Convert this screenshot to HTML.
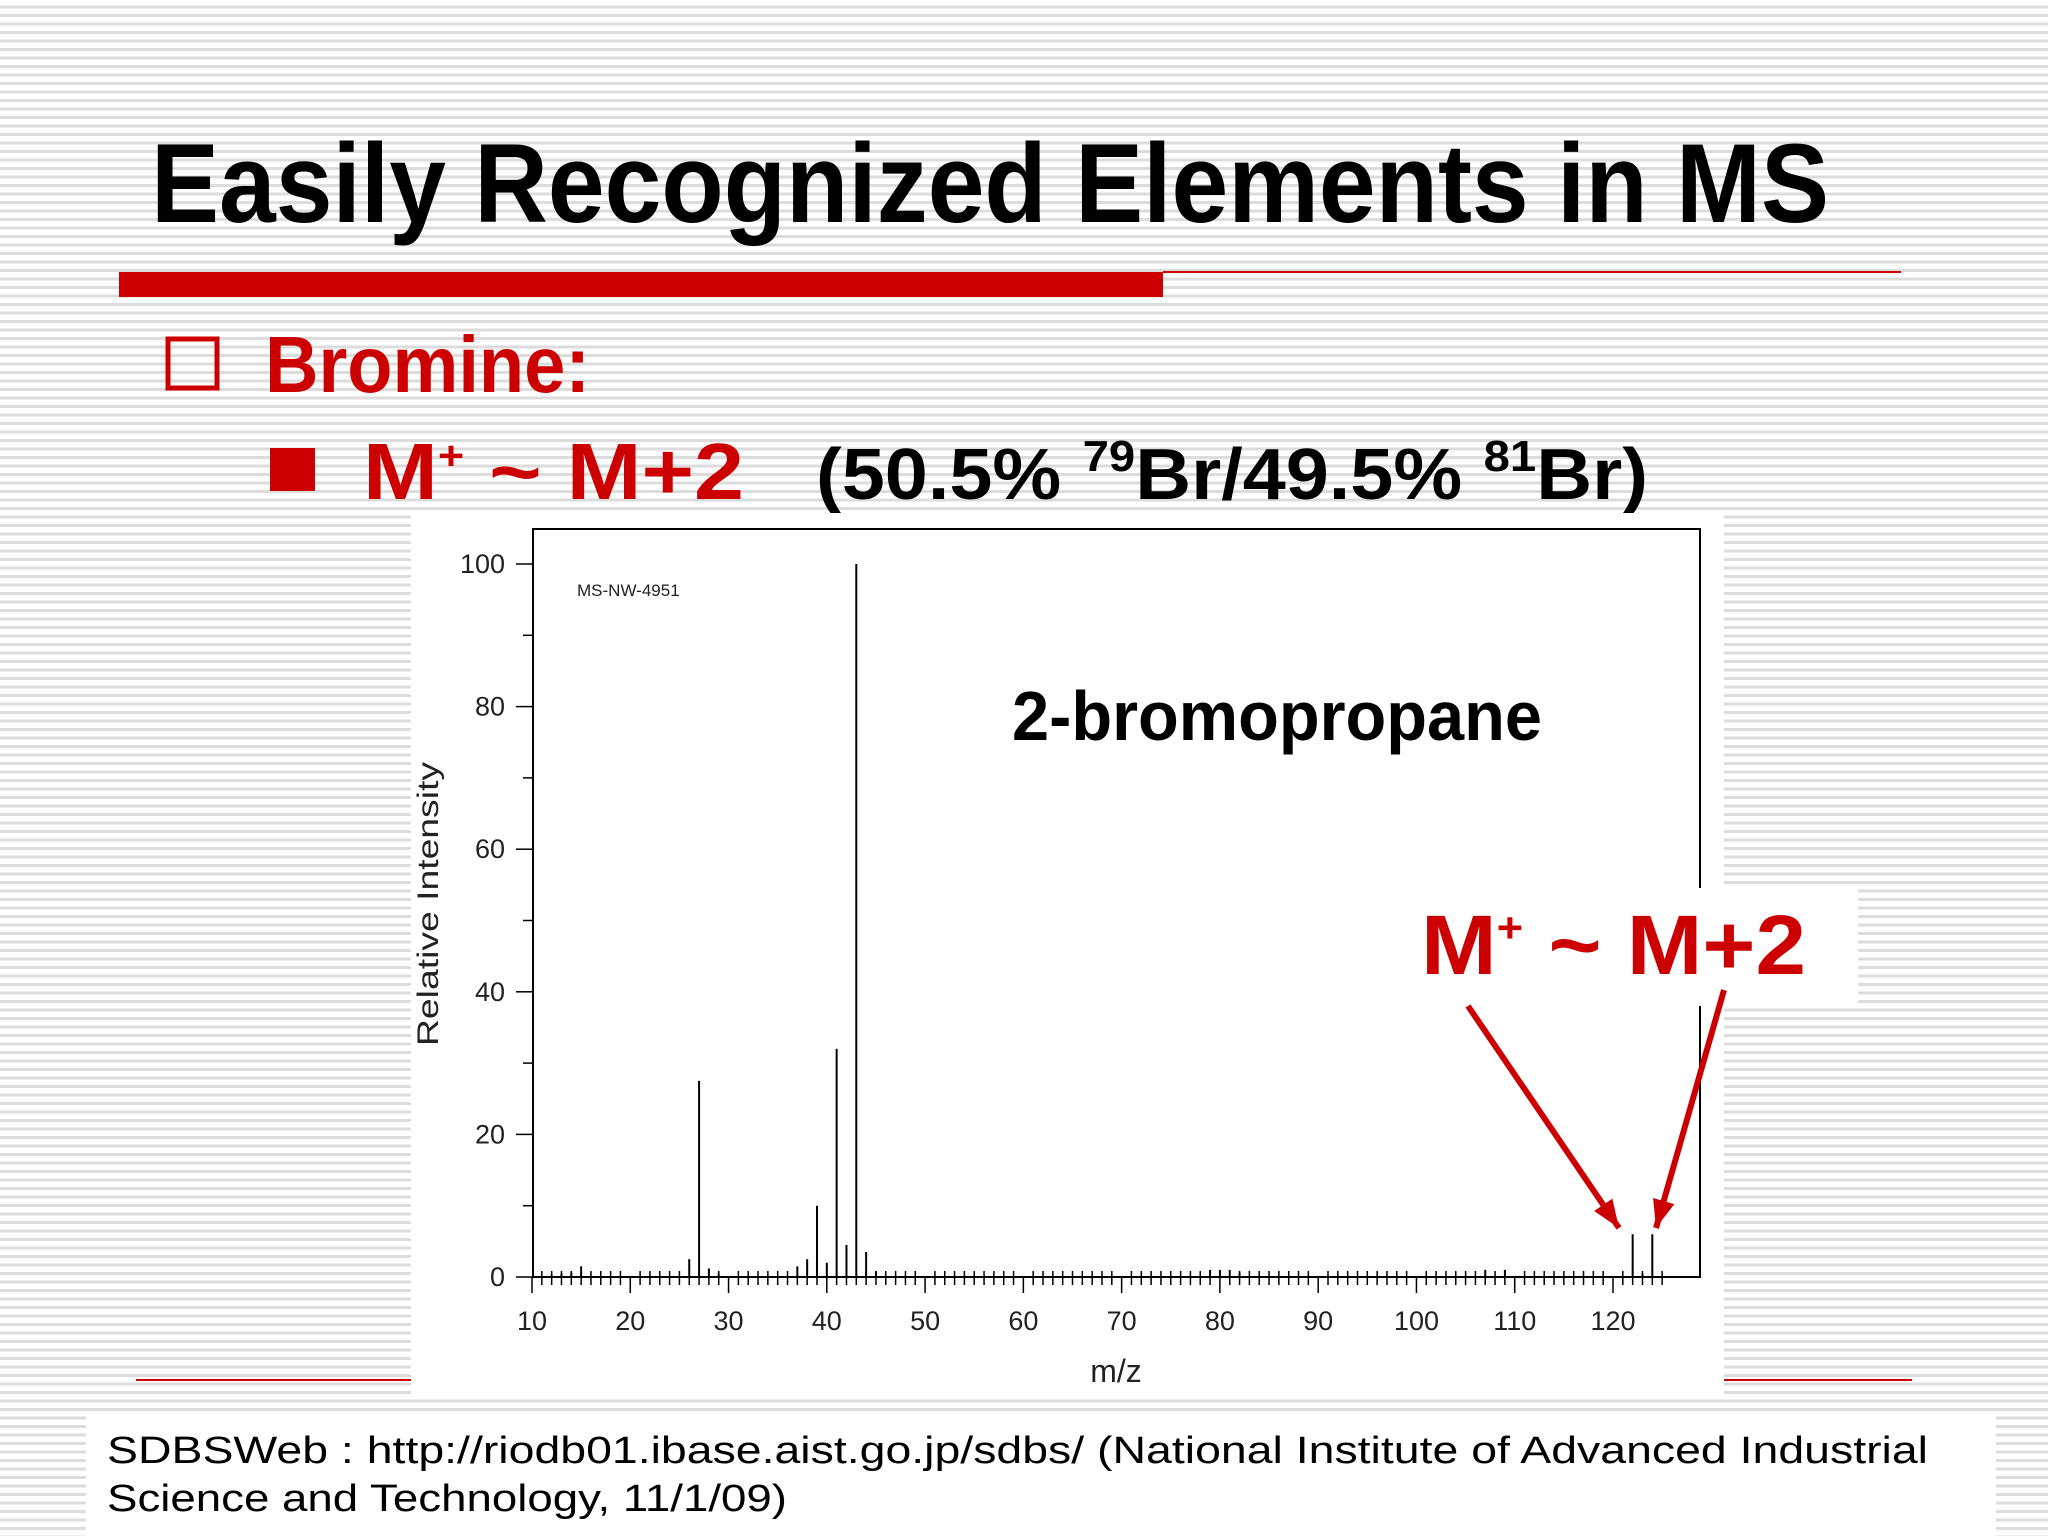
<!DOCTYPE html>
<html><head><meta charset="utf-8"><style>
html,body{margin:0;padding:0;width:2048px;height:1536px;overflow:hidden;}
body{background:#fff repeating-linear-gradient(to bottom,#fff 0px,#fff 5.5px,#dcdcdc 5.5px,#dcdcdc 8.5px);}
svg{position:absolute;left:0;top:0;}
text{font-family:"Liberation Sans",sans-serif;}
</style></head><body>
<svg width="2048" height="1536" viewBox="0 0 2048 1536">
<text x="151" y="222" font-size="112" font-weight="bold" textLength="1678" lengthAdjust="spacingAndGlyphs">Easily Recognized Elements in MS</text>
<rect x="119" y="272" width="1044" height="25" fill="#cc0000"/>
<rect x="1163" y="271" width="738" height="2" fill="#cc0000"/>
<rect x="168" y="339" width="49" height="49" fill="none" stroke="#cc0000" stroke-width="5"/>
<text x="265" y="392" font-size="80" font-weight="bold" fill="#cc0000" textLength="325" lengthAdjust="spacingAndGlyphs">Bromine:</text>
<rect x="270" y="448" width="45" height="43" fill="#cc0000"/>
<text x="363" y="499" font-size="80" font-weight="bold" fill="#cc0000" textLength="381" lengthAdjust="spacingAndGlyphs">M<tspan font-size="40" dy="-30">+</tspan><tspan dy="30"> ~ M+2</tspan></text>
<text x="816" y="499" font-size="72" font-weight="bold" textLength="832" lengthAdjust="spacingAndGlyphs">(50.5% <tspan font-size="44" dy="-28">79</tspan><tspan dy="28">Br/49.5% </tspan><tspan font-size="44" dy="-28">81</tspan><tspan dy="28">Br)</tspan></text>
<rect x="136" y="1379" width="1776" height="2" fill="#cc0000"/>
<rect x="411" y="513" width="1313" height="882" fill="#fff"/>
<rect x="86" y="1411" width="1910" height="125" fill="#fff"/>
<text x="107" y="1463" font-size="38" textLength="1821" lengthAdjust="spacingAndGlyphs">SDBSWeb : http://riodb01.ibase.aist.go.jp/sdbs/ (National Institute of Advanced Industrial</text>
<text x="107" y="1511" font-size="38" textLength="680" lengthAdjust="spacingAndGlyphs">Science and Technology, 11/1/09)</text>
<g id="chart"></g>
<rect x="1417" y="888" width="441" height="118" fill="#fff"/>
<text x="1421" y="974" font-size="84" font-weight="bold" fill="#cc0000" textLength="385" lengthAdjust="spacingAndGlyphs">M<tspan font-size="42" dy="-32">+</tspan><tspan dy="32"> ~ M+2</tspan></text>
<g id="arrows"></g>
</svg>
<script>
const mz=[12,13,14,15,26,27,28,29,37,38,39,40,41,42,43,44,45,79,80,81,82,107,109,122,123,124];
const intensity=[0.3,0.5,0.6,1.5,2.5,27.5,1.2,0.5,1.5,2.5,10,2,32,4.5,100,3.5,0.8,1,1,1,0.6,1,1,6,0.5,6];
const xTicks=[10,20,30,40,50,60,70,80,90,100,110,120];
const yTicks=[0,20,40,60,80,100];
const NS="http://www.w3.org/2000/svg";
const X0=532,X1=1613,Y0=1277,Y100=564;
const xs=v=>X0+(v-10)*(X1-X0)/110;
const ys=v=>Y0-v*(Y0-Y100)/100;
const g=document.getElementById('chart');
function mk(t,a,p){const e=document.createElementNS(NS,t);for(const k in a)e.setAttribute(k,a[k]);(p||g).appendChild(e);return e;}
const frame=mk('rect',{x:533,y:529,width:1167,height:Y0-529,fill:'none',stroke:'#000','stroke-width':2});


for(let v=10;v<=125;v++){const major=v%10===0;const t=mk('line',{x1:xs(v),x2:xs(v),y1:Y0-(major?0:6),y2:Y0+(major?16:8),stroke:'#000','stroke-width':1.5});

}
xTicks.forEach(v=>{const t=mk('text',{x:xs(v),y:1330,'text-anchor':'middle','font-size':27,fill:'#222'});t.textContent=v;

});
for(let v=0;v<=100;v+=10){const major=v%20===0;const t=mk('line',{x1:X0-(major?16:9),x2:X0,y1:ys(v),y2:ys(v),stroke:'#000','stroke-width':1.5});

}
yTicks.forEach(v=>{const t=mk('text',{x:505,y:ys(v)+9,'text-anchor':'end','font-size':27,fill:'#222'});t.textContent=v;

});
mz.forEach((m,i)=>{const b=mk('line',{x1:xs(m),x2:xs(m),y1:Y0,y2:ys(intensity[i]),stroke:'#000','stroke-width':2});

});
let t=mk('text',{x:0,y:0,'font-size':30,fill:'#222',transform:'translate(438,1046) rotate(-90)',textLength:284,lengthAdjust:'spacingAndGlyphs'});t.textContent='Relative Intensity';


t=mk('text',{x:1116,y:1382,'text-anchor':'middle','font-size':32,fill:'#222'});t.textContent='m/z';


t=mk('text',{x:577,y:596,'font-size':17,fill:'#222'});t.textContent='MS-NW-4951';


t=mk('text',{x:1012,y:740,'font-size':70,'font-weight':'bold',textLength:530,lengthAdjust:'spacingAndGlyphs'});t.textContent='2-bromopropane';


const ag=document.getElementById('arrows');
function arrow(x1,y1,x2,y2,name){const l=mk('line',{x1,y1,x2,y2,stroke:'#cc0000','stroke-width':6},ag);


const a=Math.atan2(y2-y1,x2-x1),L=28,w=11;
const bx=x2-L*Math.cos(a),by=y2-L*Math.sin(a);
const p=mk('polygon',{points:`${x2},${y2} ${bx-w*Math.sin(a)},${by+w*Math.cos(a)} ${bx+w*Math.sin(a)},${by-w*Math.cos(a)}`,fill:'#cc0000'},ag);

}
arrow(1468,1006,1619,1228,'arrow-m');
arrow(1724,990,1656,1228,'arrow-m2');
</script>
</body></html>
